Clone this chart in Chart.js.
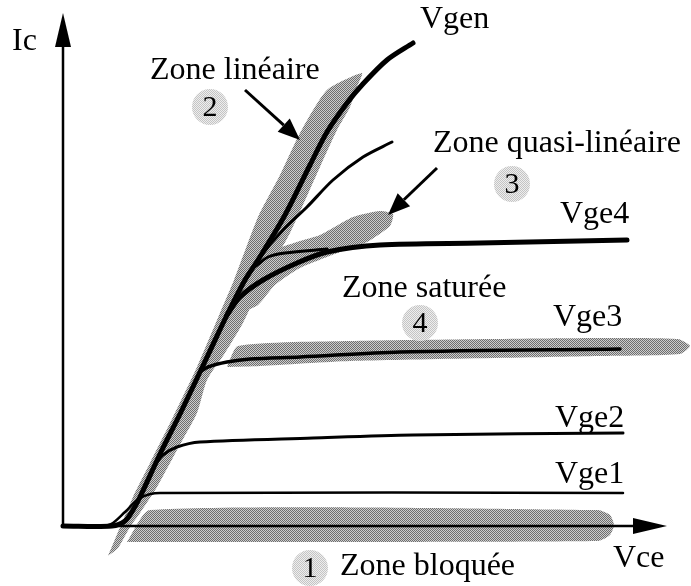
<!DOCTYPE html>
<html lang="fr">
<head>
<meta charset="utf-8">
<title>Zones de fonctionnement IGBT</title>
<script src="https://cdn.jsdelivr.net/npm/chart.js@4.4.0/dist/chart.umd.min.js"></script>
<style>
  html, body { margin: 0; padding: 0; background: #fff; }
  canvas { display: block; }
</style>
</head>
<body>
<canvas id="igbtChart" width="691" height="586"></canvas>
<script>
// Caractéristiques Ic(Vce) - unités arbitraires, origine au croisement des axes
const vgen = [[0,0],[49,0],[62,5],[70,16],[77,29],[98,74],[118,114],[146,173],[164,211],[182,246],[195,266],[222,311],[247,361],[264,394],[284,423],[299,441],[324,466],[350,483]];
const vge5 = [[182,246],[197,269],[220,296],[244,319],[270,346],[300,369],[329,384]];
const vge4 = [[164,211],[177,229],[200,246],[234,263],[264,274],[317,281],[417,283],[564,286]];
const vge4Haut = [[193,260],[205,269],[222,273],[264,277]];
const vge3 = [[137,154],[145,159],[164,164],[187,167],[237,169],[337,174],[557,177]];
const vge2 = [[92,61],[100,71],[114,79],[137,84],[250,88],[350,91],[560,93]];
const vge1 = [[42,0],[50,3],[62,14],[77,28],[97,33],[560,33]];

// Contours des zones grisées
const zoneLineaire = [[45,-30],[70,29],[87,63],[110,109],[134,159],[157,213],[171,246],[195,309],[217,351],[237,393],[264,436],[299,453],[294,439],[287,419],[274,396],[257,359],[227,293],[197,239],[180,203],[162,173],[144,146],[134,113],[114,76],[94,39],[77,13],[67,-1],[55,-22],[45,-30]];
const zoneQuasi = [[177,226],[192,258],[212,276],[237,285],[257,291],[290,309],[317,315],[330,312],[327,300],[304,284],[277,274],[237,258],[212,241],[195,221],[182,216],[177,226]];
const zoneSaturee = [[164,159],[175,180],[287,185],[537,188],[615,187],[627,180],[617,172],[537,170],[287,165],[197,160],[164,159]];
const zoneBloquee = [[64,-16],[87,16],[535,16],[547,11],[551,1],[547,-9],[535,-15],[64,-16]];

// Repères numérotés des zones
const zoneNum = ['1', '2', '3', '4'];
const zoneVce = [247, 147, 449, 357];
const zoneIc = [-42, 419, 342, 203];

// Étiquettes : texte, Vce, Ic (coin gauche, ligne de base)
const etiquettes = [
    ['Ic', -51, 476],
    ['Vgen', 357, 498],
    ['Zone linéaire', 87, 447],
    ['Zone quasi-linéaire', 370, 374],
    ['Vge4', 497, 303],
    ['Zone saturée', 279, 229],
    ['Vge3', 490, 200],
    ['Vge2', 492, 99],
    ['Vge1', 492, 43],
    ['Vce', 550, -41],
    ['Zone bloquée', 277, -49]
];

// Flèches d'annotation : départ -> pointe
const fleches = [
    [182, 436, 237, 386],
    [374, 358, 325, 311]
];

const toXY = pts => pts.map(p => ({ x: p[0], y: p[1] }));

function motif(fonce, clair) {
    const c = document.createElement('canvas');
    c.width = 2; c.height = 2;
    const g = c.getContext('2d');
    g.fillStyle = clair; g.fillRect(0, 0, 2, 2);
    g.fillStyle = fonce; g.fillRect(0, 0, 1, 1); g.fillRect(1, 1, 1, 1);
    return g.createPattern(c, 'repeat');
}

const grisZone = motif('#6e6e6e', '#cdcdcd');
const grisRepere = motif('#c4c4c4', '#eeeeee');

function zone(pts) {
    return {
        data: toXY(pts),
        showLine: true,
        fill: 'shape',
        backgroundColor: grisZone,
        borderWidth: 0,
        borderColor: 'rgba(0,0,0,0)',
        pointRadius: 0,
        tension: 0.2,
        order: 3
    };
}

function courbe(pts, w) {
    return {
        data: toXY(pts),
        showLine: true,
        fill: false,
        borderColor: '#000',
        borderWidth: w,
        pointRadius: 0,
        tension: 0.3,
        borderCapStyle: 'round',
        borderJoinStyle: 'round',
        order: 1
    };
}

function fleche(ctx, x1, y1, x2, y2, lg, lar, ep) {
    const a = Math.atan2(y2 - y1, x2 - x1);
    const bx = x2 - lg * Math.cos(a), by = y2 - lg * Math.sin(a);
    ctx.lineWidth = ep;
    ctx.beginPath();
    ctx.moveTo(x1, y1);
    ctx.lineTo(bx, by);
    ctx.stroke();
    ctx.beginPath();
    ctx.moveTo(x2, y2);
    ctx.lineTo(bx + lar * Math.sin(a), by - lar * Math.cos(a));
    ctx.lineTo(bx - lar * Math.sin(a), by + lar * Math.cos(a));
    ctx.closePath();
    ctx.fill();
}

const annotations = {
    id: 'annotations',
    afterDatasetsDraw(chart) {
        const ctx = chart.ctx;
        const sx = chart.scales.x, sy = chart.scales.y;
        const px = v => sx.getPixelForValue(v);
        const py = v => sy.getPixelForValue(v);
        ctx.save();
        ctx.fillStyle = '#000';
        ctx.strokeStyle = '#000';

        // axes
        fleche(ctx, px(0), py(0), px(0), py(513), 34, 8, 2.5);
        fleche(ctx, px(0), py(0), px(604), py(0), 34, 8, 2.5);

        fleche(ctx, px(fleches[0][0]), py(fleches[0][1]), px(fleches[0][2]), py(fleches[0][3]), 22, 9, 3);
        fleche(ctx, px(fleches[1][0]), py(fleches[1][1]), px(fleches[1][2]), py(fleches[1][3]), 22, 9, 3);

        ctx.font = '32px "Liberation Serif", "DejaVu Serif", serif';
        ctx.textAlign = 'left';
        ctx.textBaseline = 'alphabetic';
        etiquettes.forEach(e => ctx.fillText(e[0], px(e[1]), py(e[2])));

        ctx.font = '30px "Liberation Serif", "DejaVu Serif", serif';
        ctx.textAlign = 'center';
        ctx.textBaseline = 'middle';
        zoneNum.forEach((n, i) => ctx.fillText(n, px(zoneVce[i]), py(zoneIc[i]) + 1));
        ctx.restore();
    }
};

new Chart(document.getElementById('igbtChart'), {
    type: 'scatter',
    data: {
        datasets: [
            zone(zoneLineaire),
            zone(zoneQuasi),
            zone(zoneSaturee),
            zone(zoneBloquee),
            {
                data: zoneVce.map((v, i) => ({ x: v, y: zoneIc[i] })),
                pointRadius: 18,
                pointStyle: 'circle',
                pointBackgroundColor: grisRepere,
                pointBorderWidth: 0,
                pointBorderColor: 'rgba(0,0,0,0)',
                clip: false,
                order: 2
            },
            courbe(vgen, 5),
            courbe(vge5, 3),
            courbe(vge4, 5),
            courbe(vge4Haut, 3),
            courbe(vge3, 3.5),
            courbe(vge2, 3),
            courbe(vge1, 2.5)
        ]
    },
    options: {
        responsive: false,
        animation: false,
        devicePixelRatio: 1,
        layout: { padding: 0, autoPadding: false },
        plugins: {
            legend: { display: false },
            tooltip: { enabled: false }
        },
        scales: {
            x: { type: 'linear', min: -63, max: 628, display: false },
            y: { type: 'linear', min: -60, max: 526, display: false }
        }
    },
    plugins: [annotations]
});
</script>
</body>
</html>
